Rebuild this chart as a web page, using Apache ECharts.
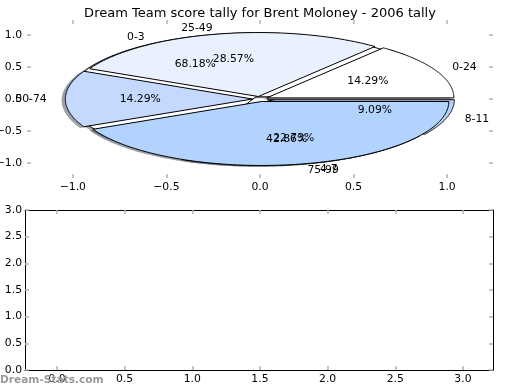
<!DOCTYPE html>
<html>
<head>
<meta charset="utf-8">
<script src="https://cdn.jsdelivr.net/npm/echarts@6/dist/echarts.min.js"></script>
<style>html,body{margin:0;padding:0;background:#fff}#c{width:520px;height:390px}</style>
</head>
<body>
<div id="c"></div>
<script>
// ---- data ----
const titleText = 'Dream Team score tally for Brent Moloney - 2006 tally';
const pie1Labels = ['0-24', '25-49', '50-74', '75-99'];
const pie1Values = [1, 2, 1, 3];
const pie1Colors = ['#ffffff', '#e9f1ff', '#c5d9ff', '#b3d3ff'];
const pie2Labels = ['0-3', '4-7', '8-11'];
const pie2Values = [15, 5, 2];
const pie2Colors = ['#ffffff', '#c5d9ff', '#b3d3ff'];
const topTicks = [-1.0, -0.5, 0.0, 0.5, 1.0];
const bottomXTicks = [0.0, 0.5, 1.0, 1.5, 2.0, 2.5, 3.0];
const bottomYTicks = [0.0, 0.5, 1.0, 1.5, 2.0, 2.5, 3.0];
const watermark = 'Dream-Stats.com';

// ---- styling / geometry ----
const EXPLODE = 0.04, R = 1.0, LABEL_D = 1.1, PCT_D = 0.6;
const FONT = '"DejaVu Sans", sans-serif';
const FS = 10.8;
const TICK_COLOR = '#b4b4b4';

function wedges(vals, colors, labels) {
  const tot = vals.reduce((a, b) => a + b, 0);
  let c = 0;
  return vals.map((v, i) => {
    const a1 = c / tot * 2 * Math.PI; c += v;
    const a2 = c / tot * 2 * Math.PI;
    const m = (a1 + a2) / 2;
    return { a1, a2, m, cx: EXPLODE * Math.cos(m), cy: EXPLODE * Math.sin(m),
      pct: (v / tot * 100).toFixed(2) + '%', color: colors[i], label: labels[i] };
  });
}
const W1 = wedges(pie1Values, pie1Colors, pie1Labels);
const W2 = wedges(pie2Values, pie2Colors, pie2Labels);

function poly(api, w, dx, dy) {
  const pts = [api.coord([w.cx + dx, w.cy + dy])];
  const N = 120;
  for (let k = 0; k <= N; k++) {
    const t = w.a1 + (w.a2 - w.a1) * k / N;
    pts.push(api.coord([w.cx + dx + R * Math.cos(t), w.cy + dy + R * Math.sin(t)]));
  }
  return pts;
}
function shade(hex) {
  const r = parseInt(hex.slice(1, 3), 16), g = parseInt(hex.slice(3, 5), 16), b = parseInt(hex.slice(5, 7), 16);
  return 'rgba(' + Math.round(r * 0.3) + ',' + Math.round(g * 0.3) + ',' + Math.round(b * 0.3) + ',0.5)';
}
const allW = W2.concat(W1);

const labelItems = [];
[W2, W1].forEach(ws => ws.forEach(w => {
  const xt = w.cx + LABEL_D * R * Math.cos(w.m), yt = w.cy + LABEL_D * R * Math.sin(w.m);
  labelItems.push({ x: xt, y: yt, text: w.label, align: xt > 0 ? 'left' : 'right' });
  labelItems.push({ x: w.cx + PCT_D * R * Math.cos(w.m), y: w.cy + PCT_D * R * Math.sin(w.m), text: w.pct, align: 'center' });
}));

const fmt = v => (v < 0 ? '\u2212' : '') + Math.abs(v).toFixed(1);

function axisDef(gi, pos, showLabel, showLine, lo, hi, ticks, margin) {
  return { type: 'value', gridIndex: gi, position: pos, min: lo, max: hi,
    axisLine: { show: showLine, onZero: false, lineStyle: { color: '#000', width: 1 } },
    axisTick: { show: true, inside: true, length: 4, customValues: ticks, lineStyle: { color: TICK_COLOR, width: 1.5 } },
    axisLabel: { show: showLabel, customValues: ticks, formatter: fmt, color: '#000', fontSize: FS, fontFamily: FONT, margin: margin },
    splitLine: { show: false } };
}

const chart = echarts.init(document.getElementById('c'), null, { renderer: 'canvas' });
chart.setOption({
  animation: false,
  backgroundColor: '#fff',
  title: { text: titleText, left: 'center', top: 2,
    textStyle: { fontSize: 13, fontWeight: 'normal', fontFamily: FONT, color: '#000' } },
  grid: [
    { left: 27, width: 466, top: 20, height: 158, outerBoundsMode: 'none', containLabel: false },
    { left: 25, width: 468, top: 210, height: 160, outerBoundsMode: 'none', containLabel: false }
  ],
  xAxis: [
    axisDef(0, 'bottom', true, false, -1.245, 1.245, topTicks, 4),
    axisDef(0, 'top', false, false, -1.245, 1.245, topTicks, 4),
    axisDef(1, 'bottom', true, true, -0.236, 3.222, bottomXTicks, 4),
    axisDef(1, 'top', false, true, -0.236, 3.222, bottomXTicks, 4)
  ],
  yAxis: [
    axisDef(0, 'left', true, false, -1.235, 1.235, topTicks, 5),
    axisDef(0, 'right', false, false, -1.235, 1.235, topTicks, 5),
    axisDef(1, 'left', true, true, 0, 3, bottomYTicks, 3),
    axisDef(1, 'right', false, true, 0, 3, bottomYTicks, 3)
  ],
  graphic: [{ type: 'text', left: 0, top: 375, z: 100,
    style: { text: watermark, fill: '#9a9a9a', font: 'bold 10.6px "DejaVu Sans", sans-serif' } }],
  series: [
    { type: 'custom', xAxisIndex: 0, yAxisIndex: 0, z: 1, silent: true,
      data: allW.map(() => [0, 0]),
      renderItem: (p, api) => {
        const w = allW[p.dataIndex];
        return { type: 'polygon', shape: { points: poly(api, w, -0.02, -0.02) }, style: { fill: shade(w.color), stroke: null } };
      } },
    { type: 'custom', xAxisIndex: 0, yAxisIndex: 0, z: 2, silent: true,
      data: W2.map(() => [0, 0]),
      renderItem: (p, api) => {
        const w = W2[p.dataIndex];
        return { type: 'polygon', shape: { points: poly(api, w, 0, 0) }, style: { fill: w.color, stroke: '#000', lineWidth: 1 } };
      } },
    { type: 'custom', xAxisIndex: 0, yAxisIndex: 0, z: 3, silent: true,
      data: W1.map(() => [0, 0]),
      renderItem: (p, api) => {
        const w = W1[p.dataIndex];
        return { type: 'polygon', shape: { points: poly(api, w, 0, 0) }, style: { fill: w.color, stroke: '#000', lineWidth: 1 } };
      } },
    { type: 'custom', xAxisIndex: 0, yAxisIndex: 0, z: 4, silent: true,
      data: labelItems.map(() => [0, 0]),
      renderItem: (p, api) => {
        const L = labelItems[p.dataIndex];
        const pt = api.coord([L.x, L.y]);
        return { type: 'text', x: pt[0], y: pt[1],
          style: { text: L.text, fill: '#000', font: FS + 'px "DejaVu Sans", sans-serif', align: L.align, verticalAlign: 'middle' } };
      } }
  ]
});
</script>
</body>
</html>
